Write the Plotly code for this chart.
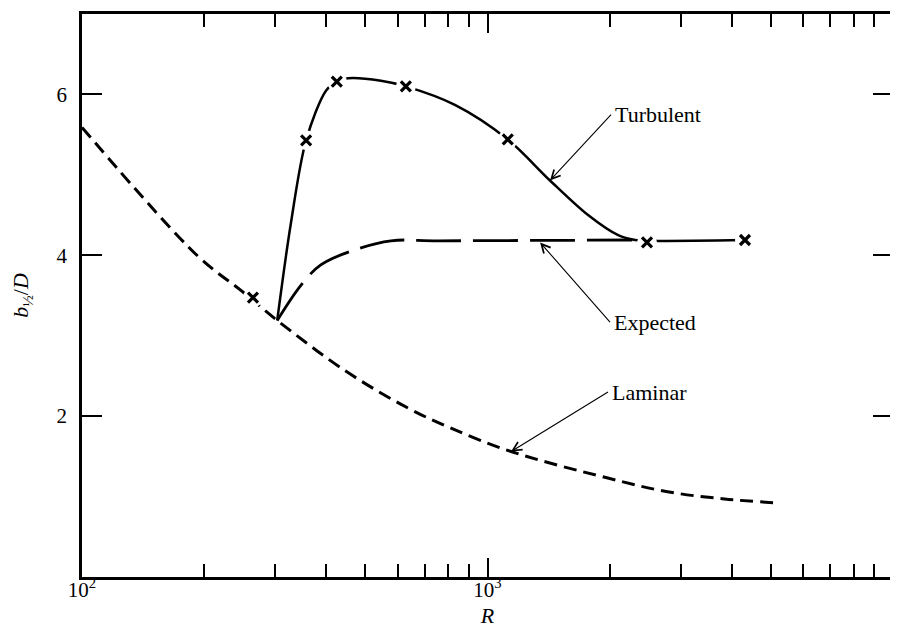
import numpy as np
import plotly.graph_objects as go

# ---- data ----
laminar_R = [100, 193, 247, 303, 447, 637, 813, 1143, 1980, 2780, 3840, 5200]
laminar_y = [5.59, 3.99, 3.56, 3.19, 2.56, 2.10, 1.85, 1.56, 1.23, 1.06, 0.97, 0.92]

expected_R = [303, 347, 388, 466, 578, 755, 2312]
expected_y = [3.19, 3.63, 3.88, 4.06, 4.18, 4.18, 4.19]

turbulent_R = [303, 327, 357, 400, 425, 453, 546, 629, 831, 1122, 1426, 1770, 2100, 2312, 2474, 4315]
turbulent_y = [3.19, 4.38, 5.43, 6.05, 6.16, 6.20, 6.17, 6.10, 5.87, 5.44, 4.93, 4.50, 4.25, 4.19, 4.18, 4.19]

measured_R = [264, 357, 425, 629, 1122, 2474, 4315]
measured_y = [3.475, 5.43, 6.16, 6.10, 5.44, 4.16, 4.19]

x_major = [100, 1000, 10000]
x_major_text = ["10<sup>2</sup>", "10<sup>3</sup>", "10<sup>4</sup>"]
x_minor = [m * d for d in (100, 1000) for m in range(2, 10)]
y_ticks = [2, 4, 6]

# labelled arrows: (text, tip R, tip y, tail R, tail y)
labels = [
    ("Turbulent", 1426, 4.93, 2017, 5.75),
    ("Expected", 1348, 4.16, 2005, 3.17),
    ("Laminar", 1143, 1.56, 1982, 2.30),
]

FONT = "Liberation Serif, Times New Roman, DejaVu Serif, serif"

fig = go.Figure()

fig.add_trace(go.Scatter(x=laminar_R, y=laminar_y, mode="lines",
                         line=dict(color="black", width=3, dash="13px,7px", shape="spline"),
                         showlegend=False, hoverinfo="skip"))
fig.add_trace(go.Scatter(x=expected_R, y=expected_y, mode="lines",
                         line=dict(color="black", width=2.8, dash="45px,12px", shape="spline"),
                         showlegend=False, hoverinfo="skip"))
fig.add_trace(go.Scatter(x=turbulent_R, y=turbulent_y, mode="lines",
                         line=dict(color="black", width=2.5, shape="spline", smoothing=0.9),
                         showlegend=False, hoverinfo="skip"))
# white halo that breaks the lines around each measured point
fig.add_trace(go.Scatter(x=measured_R, y=measured_y, mode="markers",
                         marker=dict(symbol="circle", size=20, color="white", line=dict(width=0)),
                         showlegend=False, hoverinfo="skip"))
fig.add_trace(go.Scatter(x=measured_R, y=measured_y, mode="markers",
                         marker=dict(symbol="x-thin", size=10, color="black",
                                     line=dict(width=3.2, color="black")),
                         showlegend=False))

for text, tr, ty, ar, ay in labels:
    fig.add_annotation(x=np.log10(tr), y=ty, ax=np.log10(ar), ay=ay,
                       xref="x", yref="y", axref="x", ayref="y",
                       text=text, showarrow=True, arrowhead=5, arrowsize=1.6,
                       arrowwidth=1.1, arrowcolor="black",
                       xanchor="left", yanchor="middle", borderpad=3,
                       font=dict(family=FONT, size=22, color="black"))

fig.update_xaxes(type="log", range=[2, 4],
                 tickvals=x_major, ticktext=x_major_text,
                 ticks="inside", ticklen=19, tickwidth=2, tickcolor="black",
                 minor=dict(tickvals=x_minor, ticks="inside", ticklen=13,
                            tickwidth=2, tickcolor="black", showgrid=False),
                 showline=True, linewidth=2.5, linecolor="black", mirror="allticks",
                 showgrid=False, zeroline=False, ticklabelstandoff=-8,
                 tickfont=dict(family=FONT, size=21, color="black"),
                 title=dict(text="<i>R</i>", font=dict(family=FONT, size=22, color="black"),
                            standoff=7))
fig.update_yaxes(range=[0, 7], tickvals=y_ticks,
                 ticks="inside", ticklen=20, tickwidth=2, tickcolor="black",
                 showline=True, linewidth=2.5, linecolor="black", mirror="allticks",
                 showgrid=False, zeroline=False, ticklabelstandoff=8,
                 tickfont=dict(family=FONT, size=21, color="black"),
                 title=dict(text="<i>b</i><sub>½</sub>/<i>D</i>",
                            font=dict(family=FONT, size=22, color="black"),
                            standoff=22))

fig.update_layout(width=898, height=631,
                  margin=dict(l=74, r=13, t=6, b=62, autoexpand=False),
                  plot_bgcolor="white", paper_bgcolor="white",
                  font=dict(family=FONT, color="black"))

fig.write_html("out.html")
